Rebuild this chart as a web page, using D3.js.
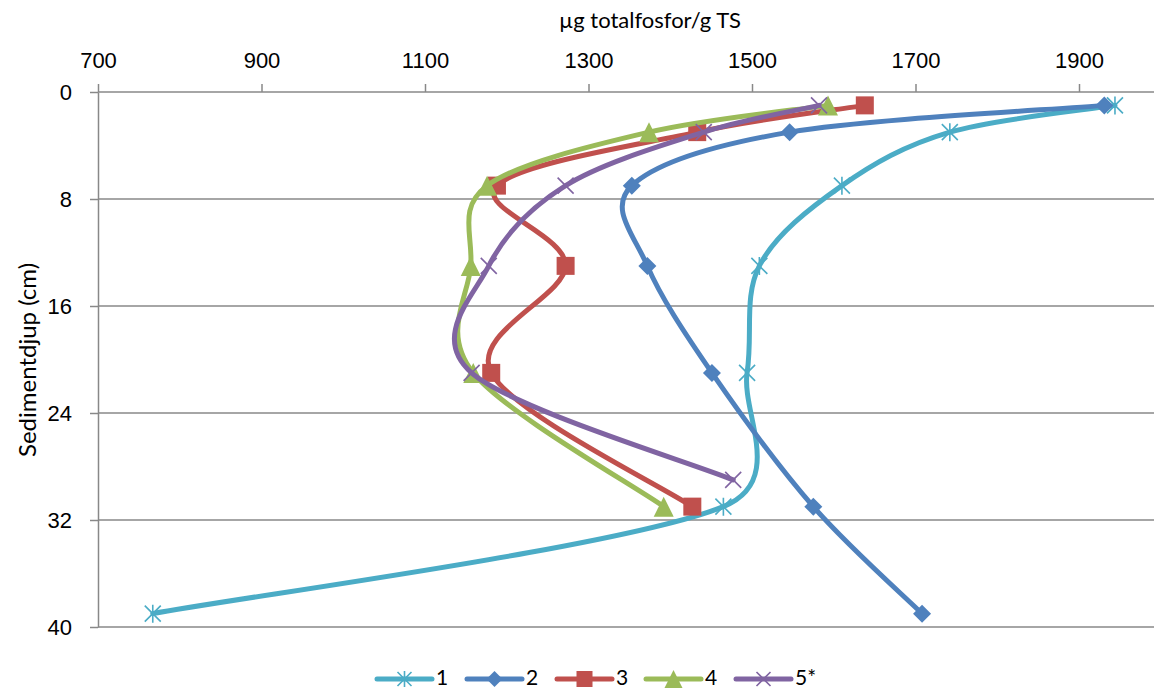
<!DOCTYPE html>
<html>
<head>
<meta charset="utf-8">
<script src="https://cdn.jsdelivr.net/npm/d3@7"></script>
<style>
  html, body { margin: 0; padding: 0; background: #fff; }
  svg { display: block; font-family: Lato, "Open Sans", sans-serif; }
</style>
</head>
<body>
<svg id="chart" width="1154" height="691"></svg>
<script>
// Sediment depth (cm) of each sample
const depthsA = [1, 3, 7, 13, 21, 31, 39];
const depthsB = [1, 3, 7, 13, 21, 31];
const depthsC = [1, 3, 7, 13, 21, 29];

// Total phosphorus, µg per g dry matter
const station1 = [1944, 1742, 1610, 1509, 1494, 1465, 767];
const station2 = [1931, 1546, 1353, 1372, 1451, 1575, 1708];
const station3 = [1638, 1433, 1188, 1272, 1181, 1427];
const station4 = [1593, 1374, 1176, 1156, 1159, 1392];
const station5 = [1582, 1441, 1272, 1178, 1157, 1477];

const seriesNames = ["1", "2", "3", "4", "5*"];
const xTicks = [700, 900, 1100, 1300, 1500, 1700, 1900];
const yTicks = [0, 8, 16, 24, 32, 40];

const seriesList = [
  { name: seriesNames[0], depths: depthsA, values: station1, color: "#4BACC6", marker: "asterisk" },
  { name: seriesNames[1], depths: depthsA, values: station2, color: "#4F81BD", marker: "diamond" },
  { name: seriesNames[2], depths: depthsB, values: station3, color: "#C0504D", marker: "square" },
  { name: seriesNames[3], depths: depthsB, values: station4, color: "#9BBB59", marker: "triangle" },
  { name: seriesNames[4], depths: depthsC, values: station5, color: "#8064A2", marker: "cross" }
];

const svg = d3.select("#chart");
const plotLeft = 98, plotTop = 92;
const x = d3.scaleLinear().domain([700, 2000]).range([plotLeft, plotLeft + 1300 * 0.8175]);
const y = d3.scaleLinear().domain([0, 40]).range([plotTop, 627]);
const plotRight = 1154;

const axisColor = "#888888";

// horizontal gridlines
svg.append("g").selectAll("line").data(yTicks.slice(1)).join("line")
  .attr("x1", plotLeft).attr("x2", plotRight)
  .attr("y1", d => y(d)).attr("y2", d => y(d))
  .attr("stroke", axisColor).attr("stroke-width", 1.5);

// top x axis
const xAxis = svg.append("g").attr("transform", `translate(0,${plotTop})`)
  .call(d3.axisTop(x).tickValues(xTicks).tickFormat(d3.format("d"))
    .tickSize(8).tickSizeOuter(0).tickPadding(16));
xAxis.select(".domain").attr("d", `M${plotLeft},0H${plotRight}`).attr("stroke", axisColor).attr("stroke-width", 1.5);
xAxis.selectAll(".tick line").attr("stroke", axisColor).attr("stroke-width", 1.5);
xAxis.selectAll(".tick text").attr("font-size", 22).attr("fill", "#000");

// left y axis
const yAxis = svg.append("g").attr("transform", `translate(${plotLeft},0)`)
  .call(d3.axisLeft(y).tickValues(yTicks).tickSize(8).tickSizeOuter(0).tickPadding(18));
yAxis.select(".domain").attr("stroke", axisColor).attr("stroke-width", 1.5);
yAxis.selectAll(".tick line").attr("stroke", axisColor).attr("stroke-width", 1.5);
yAxis.selectAll(".tick text").attr("font-size", 22).attr("fill", "#000");

// axis titles
svg.append("text").attr("x", 650).attr("y", 28).attr("text-anchor", "middle")
  .attr("font-size", 22).text("µg totalfosfor/g TS");
svg.append("text").attr("transform", "translate(36,360) rotate(-90)").attr("text-anchor", "middle")
  .attr("font-size", 24).text("Sedimentdjup (cm)");

// marker shapes
function drawMarker(g, type, color, size) {
  const s = size / 2;
  if (type === "diamond") {
    g.append("path").attr("d", `M0,${-s - 1}L${s + 1},0L0,${s + 1}L${-s - 1},0Z`).attr("fill", color);
  } else if (type === "square") {
    g.append("rect").attr("x", -s - 1).attr("y", -s - 1).attr("width", size + 2).attr("height", size + 2)
      .attr("fill", color);
  } else if (type === "triangle") {
    g.append("path").attr("d", `M0,${-s - 2}L${s + 2},${s + 2}L${-s - 2},${s + 2}Z`).attr("fill", color);
  } else if (type === "cross") {
    g.append("path").attr("d", `M${-s},${-s}L${s},${s}M${-s},${s}L${s},${-s}`)
      .attr("stroke", color).attr("stroke-width", 1.6).attr("fill", "none");
  } else if (type === "asterisk") {
    g.append("path").attr("d", `M${-s},${-s}L${s},${s}M${-s},${s}L${s},${-s}M0,${-s - 1}L0,${s + 1}`)
      .attr("stroke", color).attr("stroke-width", 1.6).attr("fill", "none");
  }
}

// Smoothed polyline: cubic Bézier through every point, with the tangent
// handles capped at half the segment length so short segments next to
// long ones don't overshoot.
function smoothPath(p) {
  const dist = (a, b) => Math.hypot(b[0] - a[0], b[1] - a[1]);
  const n = p.length;
  let d = `M${p[0][0]},${p[0][1]}`;
  for (let i = 0; i < n - 1; i++) {
    const p0 = p[Math.max(i - 1, 0)], p1 = p[i], p2 = p[i + 1], p3 = p[Math.min(i + 2, n - 1)];
    const d02 = dist(p0, p2), d12 = dist(p1, p2), d13 = dist(p1, p3);
    const f1 = d02 / 6 < d12 / 2 ? 1 / 6 : d12 / (2 * d02);
    const f2 = d13 / 6 < d12 / 2 ? 1 / 6 : d12 / (2 * d13);
    const c1 = [p1[0] + f1 * (p2[0] - p0[0]), p1[1] + f1 * (p2[1] - p0[1])];
    const c2 = [p2[0] - f2 * (p3[0] - p1[0]), p2[1] - f2 * (p3[1] - p1[1])];
    d += `C${c1[0]},${c1[1]},${c2[0]},${c2[1]},${p2[0]},${p2[1]}`;
  }
  return d;
}

seriesList.forEach(s => {
  const pts = s.depths.map((depth, i) => [x(s.values[i]), y(depth)]);
  svg.append("path").attr("d", smoothPath(pts))
    .attr("fill", "none").attr("stroke", s.color).attr("stroke-width", 5)
    .attr("stroke-linejoin", "round").attr("stroke-linecap", "round");
  pts.forEach(p => {
    const g = svg.append("g").attr("transform", `translate(${p[0]},${p[1]})`);
    drawMarker(g, s.marker, s.color, 16);
  });
});

// legend
const legendX = [377, 467, 557, 646, 736];
seriesList.forEach((s, i) => {
  const lg = svg.append("g").attr("transform", `translate(${legendX[i]},679)`);
  lg.append("line").attr("x1", 0).attr("x2", 55).attr("y1", 0).attr("y2", 0)
    .attr("stroke", s.color).attr("stroke-width", 5).attr("stroke-linecap", "round");
  const m = lg.append("g").attr("transform", "translate(27.5,0)");
  drawMarker(m, s.marker, s.color, 14);
  lg.append("text").attr("x", 59).attr("y", 6).attr("font-size", 21).text(s.name);
});
</script>
</body>
</html>
